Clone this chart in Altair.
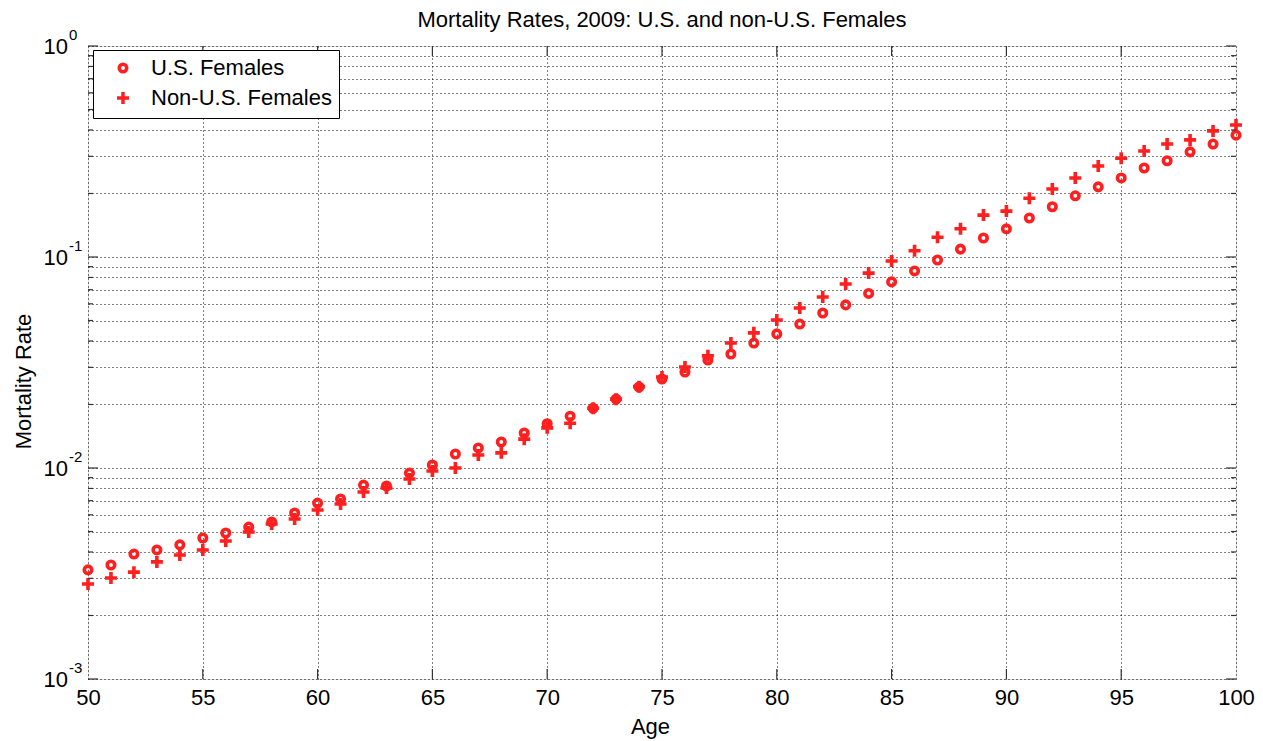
import altair as alt
import pandas as pd

# Age axis and the two mortality series (deaths per person per year)
ages = list(range(50, 101))

us_females = [
    0.00329, 0.00347, 0.00391, 0.00409, 0.00432, 0.00466, 0.00492, 0.00525, 0.00555, 0.00612,
    0.00682, 0.00713, 0.00830, 0.00822, 0.00946, 0.01033, 0.01165, 0.01245, 0.01328, 0.01465,
    0.0162, 0.0176, 0.0192, 0.0212, 0.0242, 0.0264, 0.0285, 0.0325, 0.0347, 0.0391,
    0.0432, 0.0481, 0.0543, 0.0593, 0.0672, 0.0762, 0.0859, 0.0968, 0.109, 0.123,
    0.136, 0.153, 0.173, 0.195, 0.215, 0.237, 0.264, 0.286, 0.315, 0.343,
    0.378,
]

non_us_females = [
    0.00282, 0.00301, 0.00321, 0.00359, 0.00387, 0.00409, 0.00451, 0.00497, 0.00543, 0.00573,
    0.00632, 0.00675, 0.00769, 0.00804, 0.00887, 0.00968, 0.01000, 0.01153, 0.0118, 0.0137,
    0.0155, 0.0163, 0.0192, 0.0212, 0.0243, 0.0270, 0.0301, 0.0340, 0.0391, 0.0437,
    0.0503, 0.0573, 0.0646, 0.0745, 0.0839, 0.0957, 0.107, 0.124, 0.136, 0.158,
    0.165, 0.190, 0.210, 0.237, 0.270, 0.294, 0.318, 0.343, 0.359, 0.396,
    0.422,
]

series_names = ["U.S. Females", "Non-U.S. Females"]

# Axis ticks
x_ticks = [50, 55, 60, 65, 70, 75, 80, 85, 90, 95, 100]
x_inner_ticks = [55, 60, 65, 70, 75, 80, 85, 90, 95]
y_decades = [0.001, 0.01, 0.1, 1.0]
y_exponents = ["-3", "-2", "-1", "0"]
y_minor = [m * d for d in [0.001, 0.01, 0.1] for m in range(2, 10)]
y_grid = sorted(y_minor + y_decades)

FONT = "Liberation Sans"
RED = "#ff1f1f"
W, H = 1148, 633
PLUS = "M-1,0L1,0M0,-1L0,1"

points = pd.DataFrame({
    "age": ages + ages,
    "rate": us_females + non_us_females,
    "series": [series_names[0]] * len(ages) + [series_names[1]] * len(ages),
})

x_scale = alt.Scale(domain=[50, 100], nice=False, zero=False)
y_scale = alt.Scale(type="log", domain=[0.001, 1], nice=False)

legend = alt.Legend(
    title=None, orient="none", legendX=5, legendY=4,
    strokeColor="black", fillColor="white", padding=7, cornerRadius=0,
    labelFont=FONT, labelFontSize=22, labelColor="black", labelLimit=0,
    symbolStrokeColor=RED, symbolFillColor="transparent", symbolStrokeWidth=3.5,
    symbolOffset=12, labelOffset=17, rowPadding=6,
)

GRID = dict(grid=True, gridDash=[1, 3], gridColor="#000000", gridOpacity=1, gridWidth=1)

scatter = alt.Chart(points).mark_point(
    filled=False, color=RED, strokeWidth=3.6, opacity=1
).encode(
    x=alt.X("age:Q", scale=x_scale, axis=alt.Axis(
        values=x_ticks, **GRID,
        ticks=False, domain=False, labelFont=FONT, labelFontSize=22, labelColor="black",
        labelPadding=8, labelFlush=False, title="Age", titleFont=FONT, titleFontSize=22,
        titleFontWeight="normal", titleColor="black", titleX=W / 2 - 12, titleY=54,
        titleBaseline="alphabetic")),
    y=alt.Y("rate:Q", scale=y_scale, axis=alt.Axis(
        values=y_grid, **GRID,
        ticks=False, domain=False, labels=False, title="Mortality Rate", titleFont=FONT,
        titleFontSize=22, titleFontWeight="normal", titleColor="black",
        titleX=-58, titleY=335, titleAngle=270, titleBaseline="alphabetic")),
    shape=alt.Shape("series:N", scale=alt.Scale(domain=series_names, range=["circle", PLUS]),
                    legend=legend),
    size=alt.Size("series:N", scale=alt.Scale(domain=series_names, range=[56, 144]),
                  legend=legend),
)

# Inward tick marks on all four sides of the box
TICK = "#333333"
ymaj = pd.DataFrame({"v": y_decades})
ymin = pd.DataFrame({"v": y_minor})
xmaj = pd.DataFrame({"a": x_inner_ticks})

def y_ticks(df, x0, x1):
    return alt.Chart(df).mark_rule(color=TICK, strokeWidth=1.2).encode(
        y=alt.Y("v:Q", scale=y_scale), x=alt.value(x0), x2=alt.value(x1))

def x_ticks_at(y0, y1):
    return alt.Chart(xmaj).mark_rule(color=TICK, strokeWidth=1.2).encode(
        x=alt.X("a:Q", scale=x_scale), y=alt.value(y0), y2=alt.value(y1))

ticks = [
    y_ticks(ymaj, 0, 10), y_ticks(ymaj, W, W - 10),
    y_ticks(ymin, 0, 5), y_ticks(ymin, W, W - 5),
    x_ticks_at(0, 10), x_ticks_at(H, H - 10),
]

# Power-of-ten labels for the log axis
dec = pd.DataFrame({"v": y_decades, "e": y_exponents})
base_lbl = alt.Chart(dec).mark_text(
    align="right", baseline="middle", font=FONT, fontSize=22, color="black", dy=1
).encode(y=alt.Y("v:Q", scale=y_scale), x=alt.value(-20), text=alt.value("10"))
exp_lbl = alt.Chart(dec).mark_text(
    align="left", baseline="middle", font=FONT, fontSize=15, color="black", dx=1, dy=-11
).encode(y=alt.Y("v:Q", scale=y_scale), x=alt.value(-20), text="e:N")

chart = alt.layer(scatter, *ticks, base_lbl, exp_lbl).properties(
    width=W, height=H,
    padding={"left": 88, "top": 46, "right": 27, "bottom": 62},
    autosize=alt.AutoSizeParams(type="none"),
    title=alt.Title("Mortality Rates, 2009: U.S. and non-U.S. Females", font=FONT,
                    fontSize=22, fontWeight="normal", color="black", anchor="middle",
                    offset=6, dy=10),
).configure_view(stroke="#3a3a3a", strokeWidth=1.5).configure(background="white")

chart.save("out.html", embed_options={"renderer": "svg", "actions": False})
